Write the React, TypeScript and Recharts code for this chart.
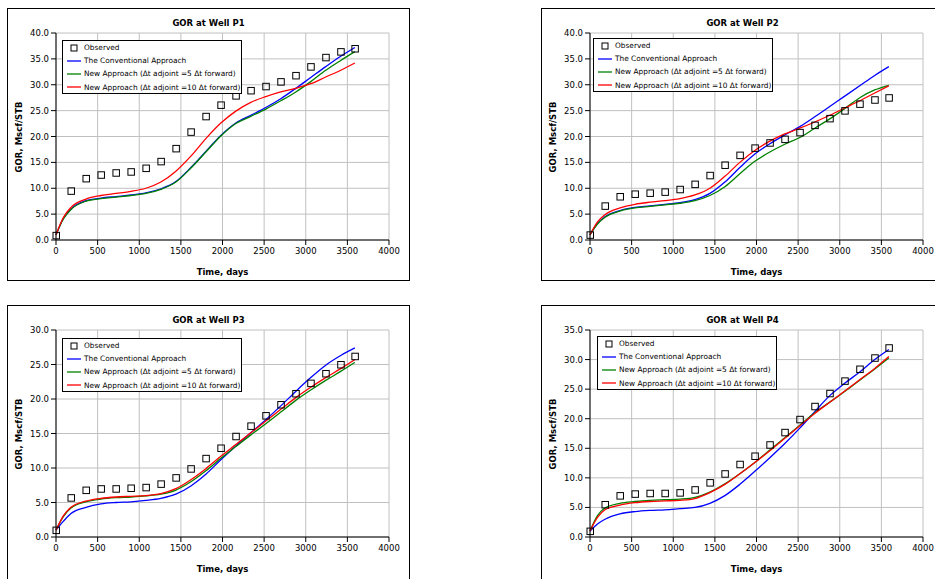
import React from 'react';
import { ComposedChart, Line, Scatter, XAxis, YAxis, CartesianGrid, Legend } from 'recharts';

// days of the observed points and of the simulated curves
const obsDays = [0, 180, 360, 540, 720, 900, 1080, 1260, 1440, 1620, 1800, 1980, 2160, 2340, 2520, 2700, 2880, 3060, 3240, 3420, 3590];
const lineDays = [0, 90, 180, 360, 540, 720, 900, 1080, 1260, 1440, 1620, 1800, 1980, 2160, 2340, 2520, 2700, 2880, 3060, 3240, 3420, 3590];
const xTicks = [0, 500, 1000, 1500, 2000, 2500, 3000, 3500, 4000];

// Well P1
const p1Observed = [0.9, 9.5, 11.9, 12.6, 13.0, 13.2, 13.9, 15.2, 17.7, 20.9, 23.9, 26.1, 27.9, 28.9, 29.7, 30.6, 31.8, 33.5, 35.3, 36.4, 37.0];
const p1Conventional = [1.0, 4.2, 6.0, 7.6, 8.1, 8.4, 8.7, 9.1, 9.9, 11.3, 14.0, 17.1, 20.2, 22.6, 24.1, 25.6, 27.3, 29.3, 31.4, 33.5, 35.5, 37.2];
const p1Adj5 = [1.0, 4.1, 5.9, 7.5, 8.0, 8.3, 8.6, 9.0, 9.8, 11.2, 13.9, 17.0, 20.1, 22.5, 23.9, 25.3, 26.9, 28.6, 30.6, 32.8, 34.7, 36.4];
const p1Adj10 = [1.0, 4.4, 6.3, 7.9, 8.6, 9.0, 9.4, 10.0, 11.2, 13.3, 16.2, 19.6, 22.6, 24.9, 26.6, 27.7, 28.6, 29.3, 30.2, 31.5, 32.8, 34.2];

// Well P2
const p2Observed = [1.0, 6.6, 8.4, 8.9, 9.1, 9.3, 9.8, 10.8, 12.5, 14.5, 16.4, 17.8, 18.8, 19.5, 20.8, 22.2, 23.5, 25.0, 26.3, 27.1, 27.5];
const p2Conventional = [1.0, 3.2, 4.5, 5.7, 6.3, 6.6, 6.9, 7.2, 7.8, 9.0, 11.2, 14.0, 16.6, 18.6, 20.3, 21.9, 23.8, 25.8, 27.8, 29.8, 31.8, 33.5];
const p2Adj5 = [1.0, 3.1, 4.4, 5.6, 6.2, 6.5, 6.8, 7.1, 7.6, 8.6, 10.3, 12.8, 15.2, 17.0, 18.5, 19.8, 21.6, 23.4, 25.4, 27.5, 29.0, 29.9];
const p2Adj10 = [1.0, 3.5, 4.9, 6.2, 6.9, 7.3, 7.6, 8.0, 8.7, 10.0, 12.3, 15.0, 17.3, 19.1, 20.5, 21.6, 22.8, 24.1, 25.5, 26.9, 28.4, 29.8];

// Well P3
const p3Observed = [1.0, 5.7, 6.8, 7.0, 7.0, 7.1, 7.2, 7.7, 8.6, 9.9, 11.4, 12.9, 14.6, 16.1, 17.6, 19.2, 20.8, 22.3, 23.7, 25.0, 26.2];
const p3Conventional = [1.0, 2.3, 3.4, 4.3, 4.8, 5.0, 5.1, 5.3, 5.6, 6.2, 7.4, 9.1, 11.2, 13.2, 15.1, 17.0, 19.0, 21.1, 23.1, 24.9, 26.3, 27.4];
const p3Adj5 = [1.0, 3.0, 4.2, 5.1, 5.5, 5.7, 5.8, 5.95, 6.2, 6.8, 8.0, 9.6, 11.4, 13.1, 14.8, 16.4, 18.1, 19.8, 21.3, 22.7, 24.0, 25.3];
const p3Adj10 = [1.0, 3.1, 4.3, 5.2, 5.6, 5.8, 5.9, 6.0, 6.3, 7.0, 8.3, 9.9, 11.7, 13.4, 15.1, 16.8, 18.5, 20.2, 21.7, 23.1, 24.4, 25.7];

// Well P4
const p4Observed = [1.0, 5.5, 7.0, 7.3, 7.4, 7.4, 7.5, 8.0, 9.2, 10.7, 12.3, 13.7, 15.6, 17.7, 19.9, 22.1, 24.3, 26.4, 28.4, 30.3, 32.0];
const p4Conventional = [1.0, 2.2, 3.0, 3.9, 4.3, 4.5, 4.6, 4.8, 5.0, 5.7, 7.0, 8.9, 11.1, 13.4, 15.8, 18.4, 21.2, 23.9, 26.0, 27.9, 30.0, 31.7];
const p4Adj5 = [1.0, 3.6, 4.9, 5.7, 6.0, 6.2, 6.3, 6.4, 6.7, 7.6, 9.0, 10.7, 12.6, 14.7, 16.8, 18.9, 21.0, 22.8, 24.6, 26.5, 28.4, 30.3];
const p4Adj10 = [1.0, 3.3, 4.6, 5.4, 5.8, 6.0, 6.1, 6.2, 6.5, 7.5, 8.9, 10.7, 12.6, 14.6, 16.7, 18.8, 20.9, 22.8, 24.7, 26.6, 28.5, 30.5];

const legendItems = [
  { name: 'Observed', color: '#000', marker: true },
  { name: 'The Conventional Approach', color: '#0000ff' },
  { name: 'New Approach (\u0394t adjoint =5 \u0394t forward)', color: '#008000' },
  { name: 'New Approach (\u0394t adjoint =10 \u0394t forward)', color: '#ff0000' },
];

const FONT = '"DejaVu Sans", Verdana, sans-serif';

const Square = (props: any) => {
  const { cx, cy } = props;
  if (cx == null || cy == null) return null;
  return <rect x={cx - 3} y={cy - 3} width={6.5} height={6.5} fill="none" stroke="#000" strokeWidth={1} />;
};

const LegendBox = () => (
  <div
    style={{
      width: 180,
      height: 54,
      boxSizing: 'border-box',
      border: '1px solid #000',
      background: '#fff',
      fontFamily: FONT,
      fontSize: 7.4,
      color: '#000',
    }}
  >
    {legendItems.map((item) => (
      <div key={item.name} style={{ height: 13.2, display: 'flex', alignItems: 'center', whiteSpace: 'nowrap' }}>
        <svg width={20} height={10} style={{ flex: 'none' }}>
          {item.marker ? (
            <rect x={8} y={2} width={6} height={6} fill="none" stroke="#000" />
          ) : (
            <line x1={4} x2={18} y1={5} y2={5} stroke={item.color} strokeWidth={1.3} />
          )}
        </svg>
        <span style={{ marginLeft: 1 }}>{item.name}</span>
      </div>
    ))}
  </div>
);

interface PanelProps {
  title: string;
  left: number;
  top: number;
  boxHeight: number;
  yMax: number;
  observed: number[];
  conventional: number[];
  adj5: number[];
  adj10: number[];
  legendX: number;
  legendY: number;
}

const Panel: React.FC<PanelProps> = ({ title, left, top, boxHeight, yMax, observed, conventional, adj5, adj10, legendX, legendY }) => {
  const lineRows = lineDays.map((t, i) => ({ t, conv: conventional[i], adj5: adj5[i], adj10: adj10[i] }));
  const obsRows = obsDays.map((t, i) => ({ t, obs: observed[i] }));
  const yTicks: number[] = [];
  for (let v = 0; v <= yMax; v += 5) yTicks.push(v);

  return (
    <div
      style={{
        position: 'absolute',
        left,
        top,
        width: 403,
        height: boxHeight,
        boxSizing: 'border-box',
        border: '1px solid #000',
        background: '#fff',
        fontFamily: FONT,
      }}
    >
      <div style={{ position: 'absolute', top: 9, left: 0, width: '100%', textAlign: 'center', fontSize: 8.5, fontWeight: 'bold' }}>
        {title}
      </div>
      <ComposedChart width={401} height={271} data={lineRows} margin={{ top: 24, right: 20, bottom: 10, left: 0 }}>
        <CartesianGrid stroke="#c0c0c0" />
        <XAxis
          dataKey="t"
          type="number"
          domain={[0, 4000]}
          ticks={xTicks}
          height={30}
          tickSize={5}
          tickMargin={3}
          stroke="#000"
          tick={{ fontSize: 8.5, fill: '#000', fontFamily: FONT }}
          interval={0}
        />
        <YAxis
          type="number"
          domain={[0, yMax]}
          ticks={yTicks}
          width={48}
          tickSize={5}
          tickMargin={2}
          stroke="#000"
          tick={{ fontSize: 8.5, fill: '#000', fontFamily: FONT }}
          tickFormatter={(v: number) => v.toFixed(1)}
          interval={0}
        />
        <Legend
          layout="vertical"
          align="center"
          verticalAlign="middle"
          wrapperStyle={{ left: legendX, top: legendY, width: 180 }}
          content={() => <LegendBox />}
        />
        <Scatter data={obsRows} dataKey="obs" shape={Square} isAnimationActive={false} />
        <Line type="monotone" dataKey="conv" stroke="#0000ff" strokeWidth={1.3} dot={false} activeDot={false} isAnimationActive={false} />
        <Line type="monotone" dataKey="adj5" stroke="#008000" strokeWidth={1.3} dot={false} activeDot={false} isAnimationActive={false} />
        <Line type="monotone" dataKey="adj10" stroke="#ff0000" strokeWidth={1.3} dot={false} activeDot={false} isAnimationActive={false} />
      </ComposedChart>
      <div style={{ position: 'absolute', top: 258, left: 48, width: 333, textAlign: 'center', fontSize: 8.5, fontWeight: 'bold' }}>
        Time, days
      </div>
      <div
        style={{
          position: 'absolute',
          left: 11,
          top: 128,
          transform: 'translate(-50%, -50%) rotate(-90deg)',
          whiteSpace: 'nowrap',
          fontSize: 8.5,
          fontWeight: 'bold',
        }}
      >
        GOR, Mscf/STB
      </div>
    </div>
  );
};

const App: React.FC = () => (
  <div style={{ position: 'absolute', left: 0, top: 0, width: 935, height: 579, overflow: 'hidden', background: '#fff' }}>
    <Panel title="GOR at Well P1" left={7} top={8} boxHeight={273} yMax={40} observed={p1Observed} conventional={p1Conventional} adj5={p1Adj5} adj10={p1Adj10} legendX={54} legendY={31} />
    <Panel title="GOR at Well P2" left={541} top={8} boxHeight={273} yMax={40} observed={p2Observed} conventional={p2Conventional} adj5={p2Adj5} adj10={p2Adj10} legendX={51} legendY={29} />
    <Panel title="GOR at Well P3" left={7} top={305} boxHeight={290} yMax={30} observed={p3Observed} conventional={p3Conventional} adj5={p3Adj5} adj10={p3Adj10} legendX={54} legendY={32} />
    <Panel title="GOR at Well P4" left={541} top={305} boxHeight={290} yMax={35} observed={p4Observed} conventional={p4Conventional} adj5={p4Adj5} adj10={p4Adj10} legendX={55} legendY={30} />
  </div>
);

export default App;
